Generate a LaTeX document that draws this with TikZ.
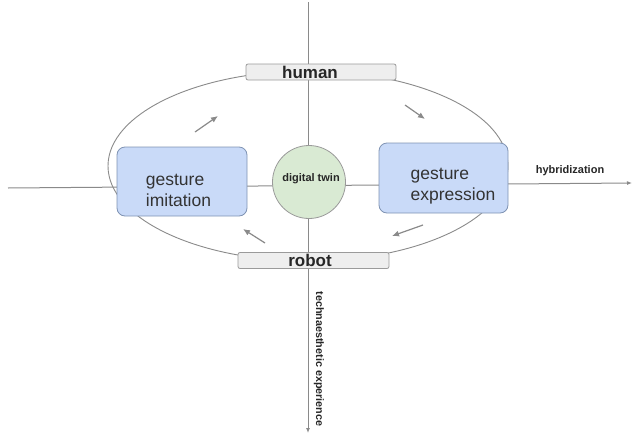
\documentclass[tikz,border=0pt]{standalone}
\usepackage{fontspec}
\setmainfont{Liberation Sans}
\usetikzlibrary{arrows.meta,calc}
\definecolor{lineg}{HTML}{8A8A8A}
\definecolor{boxfill}{HTML}{C9DAF8}
\definecolor{boxline}{HTML}{7F93B3}
\definecolor{grayfill}{HTML}{EEEEEE}
\definecolor{grayline}{HTML}{9A9A9A}
\definecolor{twinfill}{HTML}{D9EAD3}
\definecolor{txt}{HTML}{333333}
\tikzset{
  axis/.style={draw=lineg, line width=1pt, -{Latex[length=5pt,width=4pt]}},
  loopline/.style={draw=lineg, line width=0.9pt},
  flow/.style={draw=lineg, line width=1.2pt, -{Latex[length=7pt,width=6pt]}, shorten >=0pt},
  gbox/.style={draw=boxline, fill=boxfill, rounded corners=8pt, line width=0.8pt, inner sep=0pt},
  tbox/.style={draw=grayline, fill=grayfill, rounded corners=2pt, line width=0.8pt, inner sep=0pt, minimum height=16pt},
  gtext/.style={text=txt, font=\fontsize{17.5}{21}\selectfont, align=left, inner sep=0pt},
  ttext/.style={text=black!85, font=\fontsize{17}{20}\selectfont\bfseries, inner sep=0pt},
  small/.style={text=black!85, font=\fontsize{11}{13}\selectfont\bfseries, inner sep=0pt},
}
\begin{document}
\begin{tikzpicture}[x=1pt,y=-1pt]
\useasboundingbox (0,0) rectangle (633,437);
% axes
\coordinate (hl) at (8,188);
\coordinate (hr) at (632,183);
\coordinate (vt) at (308,2);
\coordinate (vb) at (308,433);
\draw[axis] (hl) -- (hr);
\draw[axis] (vt) -- (vb);
% loop
\draw[loopline] (308,166) ellipse [x radius=200, y radius=95];
% boxes
\node[tbox, minimum width=150pt] (human) at (321,72) {};
\node[ttext] (humant) at (310,72) {human};
\node[tbox, minimum width=151pt] (robot) at (313.5,260.5) {};
\node[ttext] (robott) at (310,260.5) {robot};
\node[gbox, minimum width=130pt, minimum height=69pt] (gi) at (182,181.5) {};
\node[gtext] (git) at (178.5,190.5) {gesture\\imitation};
\node[gbox, minimum width=129pt, minimum height=70pt] (ge) at (443.5,178) {};
\node[gtext] (get) at (453,186) {gesture\\expression};
\node[circle, draw=grayline, fill=twinfill, line width=0.8pt, minimum size=73pt, inner sep=0pt] (dt) at (309,182) {};
\node[small] (dtt) at (311,179) {digital twin};
% labels
\node[small] (hyb) at (570,171) {hybridization};
\node[small, rotate=-90, font=\fontsize{10.8}{13}\selectfont\bfseries] (tech) at (319,359) {technaesthetic experience};
% flow arrows
\coordinate (a1s) at (195,132); \coordinate (a1e) at (218,116);
\coordinate (a2s) at (405,105); \coordinate (a2e) at (425,119);
\coordinate (a3s) at (265,243); \coordinate (a3e) at (243,229);
\coordinate (a4s) at (423,225); \coordinate (a4e) at (392,236);
\draw[flow] (a1s) -- (a1e);
\draw[flow] (a2s) -- (a2e);
\draw[flow] (a3s) -- (a3e);
\draw[flow] (a4s) -- (a4e);
\end{tikzpicture}
\end{document}
